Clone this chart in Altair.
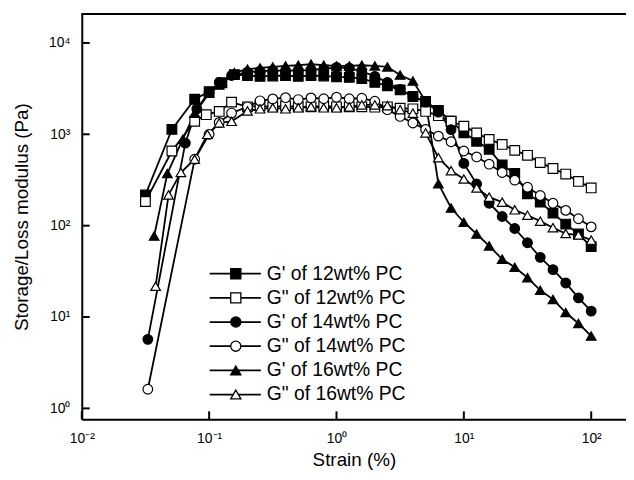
import altair as alt
import pandas as pd
import math

# ---- data (strain in %, modulus in Pa) ----
series_names = ["G' of 12wt% PC", "G\" of 12wt% PC", "G' of 14wt% PC",
                "G\" of 14wt% PC", "G' of 16wt% PC", "G\" of 16wt% PC"]

grid_tail = [0.2, 0.251, 0.316, 0.398, 0.501, 0.631, 0.794, 1.0, 1.26, 1.58, 2.0,
             2.51, 3.16, 3.98, 5.01, 6.31, 7.94, 10, 12.6, 15.8, 20, 25.1, 31.6,
             39.8, 50.1, 63.1, 79.4, 100]

g1_12_x = [0.0316, 0.051, 0.077, 0.1, 0.126, 0.158] + grid_tail
g1_12_y = [217, 1130, 2420, 2930, 3670, 4500,
           4400, 4300, 4350, 4400, 4300, 4400, 4350, 4250, 4190, 4080, 3700,
           3400, 3060, 2590, 2285, 1830, 1390, 1040, 840, 685, 462, 373, 223,
           181, 137, 104, 81, 59]

g2_12_x = [0.0316, 0.051, 0.077, 0.095, 0.12, 0.15] + grid_tail
g2_12_y = [184, 656, 1390, 1640, 1780, 2250,
           2000, 2050, 2000, 2050, 2000, 2000, 2050, 2000, 2000, 2000, 1980,
           2000, 1930, 1900, 1780, 1600, 1390, 1224, 1036, 879, 775, 667, 589,
           490, 422, 367, 305, 259]

g1_14_x = [0.033, 0.065, 0.08, 0.1, 0.12, 0.15] + grid_tail
g1_14_y = [5.7, 800, 1900, 2900, 3700, 4400,
           4800, 4900, 5000, 4950, 5000, 5050, 5200, 5400, 5300, 4900, 4300,
           3700, 3100, 2600, 2250, 1750, 1127, 480, 286, 176, 126, 93, 65,
           45, 33, 23.6, 16.2, 11.6]

g2_14_x = [0.033, 0.077, 0.1, 0.12, 0.15] + grid_tail
g2_14_y = [1.62, 533, 1000, 1350, 1706,
           2000, 2325, 2440, 2515, 2400, 2500, 2450, 2550, 2450, 2480, 2300,
           1860, 1570, 1330, 1130, 955, 828, 656, 565, 471, 382, 315, 263,
           214, 176, 147, 119, 97]

g1_16_x = [0.037, 0.047, 0.062, 0.077, 0.1, 0.12, 0.158] + grid_tail
g1_16_y = [77, 372, 880, 1706, 2810, 3465, 4740,
           5165, 5330, 5470, 5610, 5700, 5850, 5700, 5610, 5610, 5700, 5610,
           5470, 4450, 3830, 2300, 288, 156, 109, 81, 60, 43, 35, 27,
           19.6, 15.6, 11.2, 8.5, 6.2]

g2_16_x = [0.038, 0.048, 0.06, 0.077, 0.097, 0.12, 0.15] + grid_tail
g2_16_y = [21.7, 217, 382, 533, 1000, 1334, 1387,
           1800, 1900, 1950, 1900, 1950, 2000, 1950, 1950, 2000, 2100, 2100,
           2060, 1860, 1706, 1036, 555, 400, 324, 259, 205, 181, 149, 130,
           112, 95, 82, 79, 69.5]

x_ticks = [0.01, 0.1, 1, 10, 100]
y_ticks = [1, 10, 100, 1000, 10000]

# ---- build table ----
pairs = [(g1_12_x, g1_12_y), (g2_12_x, g2_12_y), (g1_14_x, g1_14_y),
         (g2_14_x, g2_14_y), (g1_16_x, g1_16_y), (g2_16_x, g2_16_y)]
rows = []
for name, (xs, ys) in zip(series_names, pairs):
    for xv, yv in zip(xs, ys):
        rows.append({"series": name, "strain": xv, "modulus": yv})
df = pd.DataFrame(rows)
legend_df = pd.DataFrame({"series": series_names})

W, H = 549.5, 409.3
FONT = "Liberation Sans"
X_DOM = [0.01, 187.6]
Y_DOM = [0.76, 20780]
TICK_PX = 8

fills = ["black", "white", "black", "white", "black", "white"]
shapes = ["square", "square", "circle", "circle", "triangle-up", "triangle-up"]

x_label = ("'10' + (datum.value < 0.05 ? '⁻²' : datum.value < 0.5 ? '⁻¹' : "
           "datum.value < 5 ? '⁰' : datum.value < 50 ? '¹' : '²')")
y_label = ("'10' + (datum.value < 5 ? '⁰' : datum.value < 50 ? '¹' : "
           "datum.value < 500 ? '²' : datum.value < 5000 ? '³' : '⁴')")

x_scale = alt.Scale(type="log", domain=X_DOM, nice=False)
y_scale = alt.Scale(type="log", domain=Y_DOM, nice=False)
shape_scale = alt.Scale(domain=series_names, range=shapes)
fill_scale = alt.Scale(domain=series_names, range=fills)

# inward tick marks: short rules starting at the axes
x_px_per_dec = W / (math.log10(X_DOM[1]) - math.log10(X_DOM[0]))
y_px_per_dec = H / (math.log10(Y_DOM[1]) - math.log10(Y_DOM[0]))
xtick_df = pd.DataFrame({"strain": x_ticks,
                         "y_lo": [Y_DOM[0]] * len(x_ticks),
                         "y_hi": [Y_DOM[0] * 10 ** (TICK_PX / y_px_per_dec)] * len(x_ticks)})
ytick_df = pd.DataFrame({"modulus": y_ticks,
                         "x_lo": [X_DOM[0]] * len(y_ticks),
                         "x_hi": [X_DOM[0] * 10 ** (TICK_PX / x_px_per_dec)] * len(y_ticks)})

x_enc = alt.X("strain:Q", scale=x_scale,
              axis=alt.Axis(values=x_ticks, labelExpr=x_label, title="Strain (%)",
                            grid=False, ticks=False, labelFlush=False,
                            domainColor="black", domainWidth=2,
                            labelFont=FONT, labelFontSize=14, labelColor="black",
                            labelPadding=19, labelBaseline="middle",
                            titleFont=FONT, titleFontSize=19, titleFontWeight="normal",
                            titleColor="black", titleX=W / 2, titleY=41,
                            titleBaseline="middle"))
y_enc = alt.Y("modulus:Q", scale=y_scale,
              axis=alt.Axis(values=y_ticks, labelExpr=y_label,
                            title="Storage/Loss modulus (Pa)",
                            grid=False, ticks=False, labelFlush=False,
                            domainColor="black", domainWidth=2,
                            labelFont=FONT, labelFontSize=14, labelColor="black",
                            labelPadding=12,
                            titleFont=FONT, titleFontSize=19, titleFontWeight="normal",
                            titleColor="black", titleX=-60.5, titleY=H / 2,
                            titleBaseline="middle"))

base = alt.Chart(df)

lines = base.mark_line(color="black", strokeWidth=1.8).encode(
    x=x_enc, y=y_enc, detail="series:N")

points = base.mark_point(filled=False, stroke="black", strokeWidth=1.2,
                         opacity=1, size=95).encode(
    x=x_enc, y=y_enc,
    shape=alt.Shape("series:N", scale=shape_scale, legend=None),
    fill=alt.Fill("series:N", scale=fill_scale, legend=None),
)

x_tick_marks = alt.Chart(xtick_df).mark_rule(color="black", strokeWidth=2).encode(
    x=alt.X("strain:Q", scale=x_scale),
    y=alt.Y("y_lo:Q", scale=y_scale), y2="y_hi:Q")
y_tick_marks = alt.Chart(ytick_df).mark_rule(color="black", strokeWidth=2).encode(
    y=alt.Y("modulus:Q", scale=y_scale),
    x=alt.X("x_lo:Q", scale=x_scale), x2="x_hi:Q")

top_border = alt.Chart(legend_df).mark_rule(color="black", strokeWidth=2).encode(
    x=alt.value(0), x2=alt.value(W), y=alt.value(0))

main = alt.layer(lines, points, x_tick_marks, y_tick_marks, top_border)

# ---- legend drawn inside the plot (rows placed by a point scale) ----
leg_y = alt.Y("series:N", sort=series_names, axis=None,
              scale=alt.Scale(type="point", domain=series_names,
                              range=[262.3, 384.3], padding=0))
leg_base = alt.Chart(legend_df)
leg_lines = leg_base.mark_rule(color="black", strokeWidth=1.8).encode(
    y=leg_y, x=alt.value(129.2), x2=alt.value(180.8))
leg_points = leg_base.mark_point(filled=False, stroke="black", strokeWidth=1.3,
                                 opacity=1, size=105).encode(
    y=leg_y, x=alt.value(155.5),
    shape=alt.Shape("series:N", scale=shape_scale, legend=None),
    fill=alt.Fill("series:N", scale=fill_scale, legend=None),
)
leg_text = leg_base.mark_text(align="left", baseline="middle", font=FONT,
                              fontSize=19.5, color="black").encode(
    y=leg_y, x=alt.value(186.8), text="series:N")
legend = alt.layer(leg_lines, leg_points, leg_text)

chart = alt.layer(main, legend).resolve_scale(y="independent").properties(
    width=W, height=H,
    padding={"left": 74.5, "top": 3.7, "right": 0, "bottom": 55},
    autosize=alt.AutoSizeParams(type="none"),
).configure_view(stroke=None).configure(background="white")

chart.save("out.html", embed_options={"renderer": "svg", "actions": False})
